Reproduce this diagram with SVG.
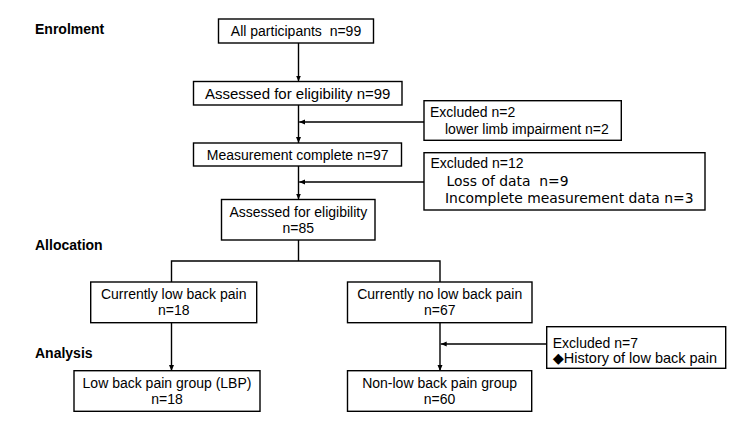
<svg xmlns="http://www.w3.org/2000/svg" width="750" height="428" viewBox="0 0 750 428">
<defs>
<marker id="ah" markerWidth="6" markerHeight="6" refX="6" refY="3" orient="auto" markerUnits="userSpaceOnUse">
<path d="M0,0.5 L6,3 L0,5.5 z" fill="#000"/>
</marker>
<style>
rect{fill:#fff;stroke:#000;stroke-width:1.4}
text{font-family:"Liberation Sans",Arial,sans-serif;font-size:14px;fill:#000}
.c{text-anchor:middle}
.h{font-weight:bold}
.v{font-family:"DejaVu Sans",Verdana,sans-serif;font-size:13.9px;white-space:pre}
.d{font-family:"DejaVu Sans",sans-serif}
.ln{fill:none;stroke:#000;stroke-width:1.4}
.ar{marker-end:url(#ah)}
</style>
</defs>
<rect width="750" height="428" style="fill:#fff;stroke:none"/>
<g id="labels">
<text class="h" x="35" y="34">Enrolment</text>
<text class="h" x="35" y="250">Allocation</text>
<text class="h" x="35" y="358">Analysis</text>
</g>
<g id="connectors">
<path class="ln ar" d="M298.5,43 V81.5"/>
<path class="ln ar" d="M298.5,105 V143"/>
<path class="ln ar" d="M424,122 H299.2"/>
<path class="ln ar" d="M298.5,166 V199.5"/>
<path class="ln ar" d="M424,182 H299.2"/>
<path class="ln" d="M298.5,240 V261 M171.5,282 V261 H440 V282"/>
<path class="ln ar" d="M171.5,323 V371"/>
<path class="ln ar" d="M440,323 V371"/>
<path class="ln ar" d="M546.7,344 H440.7"/>
</g>
<g id="n1"><rect x="218.5" y="19" width="155" height="24"/><text class="c" x="296" y="36" style="white-space:pre">All participants  n=99</text></g>
<g id="n2"><rect x="193.5" y="81.5" width="208.5" height="23.5"/><text class="c" x="297.7" y="98.5" style="font-size:15px">Assessed for eligibility n=99</text></g>
<g id="x1"><rect x="424" y="100.7" width="197.3" height="39.6"/><text x="430" y="117.3">Excluded n=2</text><text x="445" y="134">lower limb impairment n=2</text></g>
<g id="n3"><rect x="193.5" y="143" width="208" height="23"/><text class="c" x="297.7" y="160">Measurement complete n=97</text></g>
<g id="x2"><rect x="424" y="152.7" width="281" height="57.3"/><text x="430.5" y="168.3">Excluded n=12</text><text class="v" x="446.5" y="185.7">Loss of data  n=9</text><text class="v" x="445" y="202.7">Incomplete measurement data n=3</text></g>
<g id="n4"><rect x="221.5" y="199.5" width="153.5" height="40.5"/><text class="c" x="298.3" y="216.7">Assessed for eligibility</text><text class="c" x="298.3" y="233.3">n=85</text></g>
<g id="n5"><rect x="90.7" y="282" width="166" height="40.7"/><text class="c" x="173.7" y="299">Currently low back pain</text><text class="c" x="173.7" y="315">n=18</text></g>
<g id="n6"><rect x="347.5" y="282" width="184.5" height="40.7"/><text class="c" x="439.7" y="299">Currently no low back pain</text><text class="c" x="439.7" y="315">n=67</text></g>
<g id="x3"><rect x="546.7" y="326.7" width="179" height="41.6"/><text x="552.7" y="347.7">Excluded n=7</text><text x="552.7" y="362.7" style="font-size:14.5px"><tspan class="d">◆</tspan>History of low back pain</text></g>
<g id="n7"><rect x="74" y="370.7" width="186" height="40.6"/><text class="c" x="167" y="388">Low back pain group (LBP)</text><text class="c" x="167" y="404">n=18</text></g>
<g id="n8"><rect x="347.5" y="370.7" width="184.2" height="40.6"/><text class="c" x="439.6" y="387.5">Non-low back pain group</text><text class="c" x="439.6" y="403.5">n=60</text></g>
</svg>
